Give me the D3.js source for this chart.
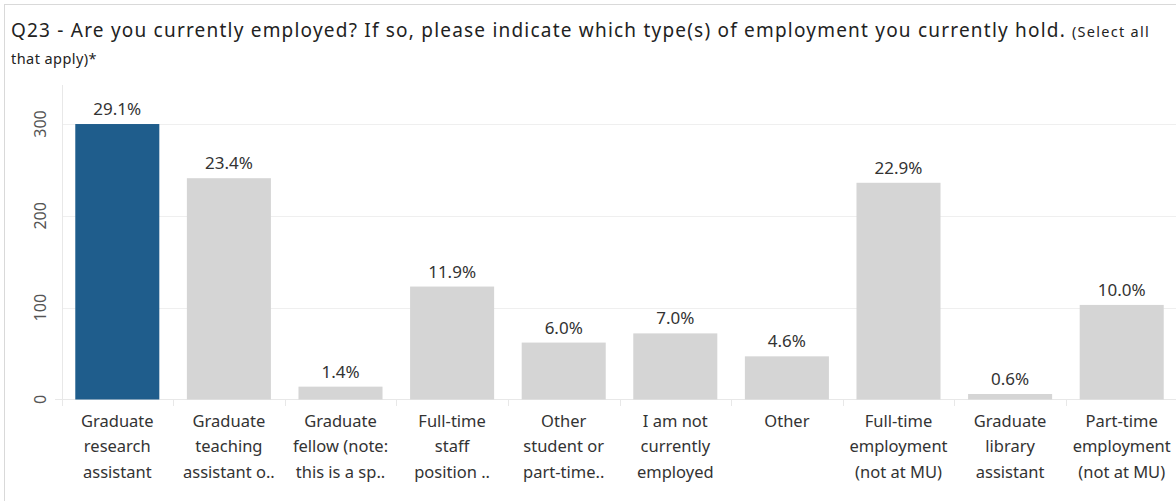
<!DOCTYPE html>
<html>
<head>
<meta charset="utf-8">
<script src="https://cdn.jsdelivr.net/npm/d3@7"></script>
<style>
	body { margin: 0; background: #fff; }
	svg { display: block; }
</style>
</head>
<body>
<script>
// categories, wrapped the way the source draws them
const categories = [
	['Graduate', 'research', 'assistant'],
	['Graduate', 'teaching', 'assistant o..'],
	['Graduate', 'fellow (note:', 'this is a sp..'],
	['Full-time', 'staff', 'position ..'],
	['Other', 'student or', 'part-time..'],
	['I am not', 'currently', 'employed'],
	['Other'],
	['Full-time', 'employment', '(not at MU)'],
	['Graduate', 'library', 'assistant'],
	['Part-time', 'employment', '(not at MU)']
];
const counts = [300, 241, 14, 123, 62, 72, 47, 236, 6, 103];
const percents = ['29.1%', '23.4%', '1.4%', '11.9%', '6.0%', '7.0%', '4.6%', '22.9%', '0.6%', '10.0%'];
const yTicks = [0, 100, 200, 300];

const width = 1176, height = 501;
const font = "'Noto Sans', sans-serif";

let svg = d3.select('body').append('svg')
	.attr('width', width)
	.attr('height', height);

// outer frame
svg.append('rect')
	.attr('x', 4.5).attr('y', 4.5)
	.attr('width', width + 10).attr('height', height + 10)
	.style('fill', 'none')
	.style('stroke', '#d9d9d9');

// stretch a text to a target width with letter spacing
function fitWidth(sel, target) {
	let len = sel.node().getComputedTextLength();
	let n = sel.text().length;
	sel.style('letter-spacing', ((target - len) / n) + 'px');
}

// title
let t1 = svg.append('text')
	.attr('x', 11).attr('y', 37)
	.style('font-family', font)
	.style('font-size', '19px')
	.style('fill', '#222')
	.text('Q23 - Are you currently employed? If so, please indicate which type(s) of employment you currently hold.');
fitWidth(t1, 1055);
let t2 = svg.append('text')
	.attr('x', 1072).attr('y', 37)
	.style('font-family', font)
	.style('font-size', '14.5px')
	.style('fill', '#222')
	.text('(Select all');
fitWidth(t2, 78);
let t3 = svg.append('text')
	.attr('x', 11).attr('y', 64)
	.style('font-family', font)
	.style('font-size', '14.5px')
	.style('fill', '#222')
	.text('that apply)*');
fitWidth(t3, 86);

let x = d3.scaleBand()
	.domain(d3.range(categories.length))
	.range([61.5, 1177.5])
	.paddingInner(0.247)
	.paddingOuter(0.1235);

let y = d3.scaleLinear()
	.domain([0, 342.5])
	.range([399.5, 85]);

// gridlines
svg.append('g').selectAll('line')
	.data(yTicks.filter(d => d > 0))
	.enter().append('line')
	.attr('x1', 62).attr('x2', width)
	.attr('y1', d => Math.round(y(d)) + 0.5)
	.attr('y2', d => Math.round(y(d)) + 0.5)
	.style('stroke', '#efefef');

// left axis line and baseline
svg.append('line')
	.attr('x1', 62.5).attr('x2', 62.5)
	.attr('y1', 85).attr('y2', 406)
	.style('stroke', '#e8e8e8');
svg.append('line')
	.attr('x1', 55).attr('x2', width)
	.attr('y1', 399.5).attr('y2', 399.5)
	.style('stroke', '#e8e8e8');

// column dividers under the baseline
svg.append('g').selectAll('line')
	.data(d3.range(1, categories.length))
	.enter().append('line')
	.attr('x1', d => Math.round(x(d) - x.step() * x.paddingInner() / 2) + 0.5)
	.attr('x2', d => Math.round(x(d) - x.step() * x.paddingInner() / 2) + 0.5)
	.attr('y1', 399).attr('y2', 406)
	.style('stroke', '#e8e8e8');

// y tick labels, rotated
svg.append('g').selectAll('text')
	.data(yTicks)
	.enter().append('text')
	.attr('transform', d => `translate(46,${y(d)}) rotate(-90)`)
	.style('text-anchor', 'middle')
	.style('font-family', font)
	.style('font-size', '16px')
	.style('fill', '#555')
	.text(d => d);

// bars
svg.append('g').selectAll('rect')
	.data(counts)
	.enter().append('rect')
	.attr('x', (d, i) => x(i))
	.attr('width', x.bandwidth())
	.attr('y', d => y(d))
	.attr('height', d => y(0) - y(d))
	.style('fill', (d, i) => i === 0 ? '#1f5d8c' : '#d5d5d5');

// value labels
svg.append('g').selectAll('text')
	.data(counts)
	.enter().append('text')
	.attr('x', (d, i) => x(i) + x.bandwidth() / 2)
	.attr('y', d => y(d) - 9)
	.style('text-anchor', 'middle')
	.style('font-family', font)
	.style('font-size', '17px')
	.style('fill', '#333')
	.text((d, i) => percents[i]);

// category labels
let cat = svg.append('g').selectAll('text')
	.data(categories)
	.enter().append('text')
	.attr('x', (d, i) => x(i) + x.bandwidth() / 2)
	.attr('y', 426.5)
	.style('text-anchor', 'middle')
	.style('font-family', font)
	.style('font-size', '16.5px')
	.style('fill', '#333');
cat.selectAll('tspan')
	.data(d => d)
	.enter().append('tspan')
	.attr('x', function() { return d3.select(this.parentNode).attr('x'); })
	.attr('dy', (d, i) => i === 0 ? 0 : 25.5)
	.text(d => d);
</script>
</body>
</html>
